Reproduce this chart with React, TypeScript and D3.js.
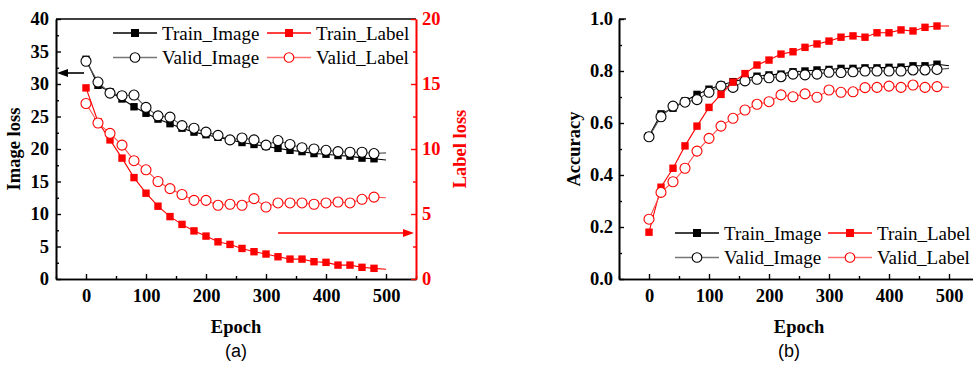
import * as d3 from 'd3'
import { useEffect, useRef } from 'react'

const epochs = [0, 20, 40, 60, 80, 100, 120, 140, 160, 180, 200, 220, 240, 260, 280, 300, 320, 340, 360, 380, 400, 420, 440, 460, 480, 500]

// (a) losses
const trainImage = [33.8, 29.8, 28.8, 27.7, 26.5, 25.5, 24.6, 23.9, 23.2, 22.6, 22.2, 21.8, 21.4, 21.0, 20.7, 20.4, 20.1, 19.8, 19.6, 19.3, 19.2, 19.0, 18.9, 18.6, 18.5, 18.3]
const validImage = [33.5, 30.3, 28.6, 28.2, 28.3, 26.4, 25.1, 24.9, 23.6, 23.2, 22.6, 22.1, 21.4, 21.7, 21.4, 20.6, 21.3, 20.7, 20.2, 20.0, 19.8, 19.6, 19.5, 19.5, 19.3, 19.4]
const trainLabel = [14.7, 12.1, 10.7, 9.3, 7.8, 6.6, 5.6, 4.8, 4.2, 3.7, 3.3, 2.86, 2.66, 2.35, 2.1, 1.92, 1.71, 1.53, 1.53, 1.33, 1.28, 1.07, 1.07, 0.9, 0.82, 0.75]
const validLabel = [13.5, 12.0, 11.2, 10.3, 9.1, 8.4, 7.5, 6.95, 6.5, 6.05, 6.05, 5.67, 5.75, 5.67, 6.18, 5.54, 5.85, 5.85, 5.85, 5.75, 5.85, 5.92, 5.85, 6.13, 6.3, 6.25]

// (b) accuracy
const trainImageAcc = [0.55, 0.635, 0.657, 0.685, 0.71, 0.73, 0.746, 0.759, 0.77, 0.78, 0.785, 0.788, 0.797, 0.8, 0.804, 0.806, 0.81, 0.81, 0.812, 0.812, 0.814, 0.815, 0.82, 0.82, 0.826, 0.82]
const validImageAcc = [0.547, 0.624, 0.665, 0.68, 0.69, 0.718, 0.742, 0.737, 0.762, 0.768, 0.774, 0.778, 0.788, 0.785, 0.788, 0.795, 0.794, 0.797, 0.8, 0.8, 0.8, 0.8, 0.804, 0.804, 0.806, 0.81]
const trainLabelAcc = [0.18, 0.353, 0.426, 0.512, 0.588, 0.66, 0.71, 0.757, 0.79, 0.823, 0.842, 0.865, 0.874, 0.891, 0.904, 0.915, 0.93, 0.935, 0.93, 0.947, 0.947, 0.958, 0.954, 0.968, 0.973, 0.973]
const validLabelAcc = [0.23, 0.333, 0.374, 0.426, 0.492, 0.541, 0.588, 0.618, 0.65, 0.672, 0.682, 0.708, 0.701, 0.712, 0.699, 0.727, 0.718, 0.72, 0.736, 0.737, 0.742, 0.737, 0.746, 0.737, 0.74, 0.737]

const xTicks = [0, 100, 200, 300, 400, 500]
const xMinor = [-50, 50, 150, 250, 350, 450, 550]
const lossTicks = [0, 5, 10, 15, 20, 25, 30, 35, 40]
const lossMinor = [2.5, 7.5, 12.5, 17.5, 22.5, 27.5, 32.5, 37.5]
const labelLossTicks = [0, 5, 10, 15, 20]
const labelLossMinor = [2.5, 7.5, 12.5, 17.5]
const accTicks = [0, 0.2, 0.4, 0.6, 0.8, 1.0]
const accMinor = [0.1, 0.3, 0.5, 0.7, 0.9]

const legendNames = ['Train_Image', 'Train_Label', 'Valid_Image', 'Valid_Label']

const SERIF = '"Liberation Serif", "Times New Roman", serif'
const SANS = '"Liberation Sans", Arial, sans-serif'
const RED = '#ff0000'

type Sel = d3.Selection<SVGGElement, unknown, null, undefined>

function styleAxis(g: Sel, color: string) {
  g.select('.domain').attr('stroke', color).attr('stroke-width', 1.6)
  g.selectAll('.tick line').attr('stroke', color).attr('stroke-width', 1.4)
  g.selectAll('.tick text')
    .attr('fill', color).attr('font-family', SERIF)
    .attr('font-weight', 'bold').attr('font-size', 18.5)
}

function drawSeries(
  g: Sel, x: d3.ScaleLinear<number, number>, y: d3.ScaleLinear<number, number>,
  vals: number[], kind: 'square' | 'circle', color: string, lineColor: string,
) {
  const line = d3.line<number>().x((_, i) => x(epochs[i])).y(d => y(d))
  g.append('path').datum(vals).attr('d', line)
    .attr('fill', 'none').attr('stroke', lineColor).attr('stroke-width', 1.1)
  const pts = vals.slice(0, vals.length - 1)
  if (kind === 'square') {
    g.selectAll(null).data(pts).enter().append('rect')
      .attr('x', (_, i) => x(epochs[i]) - 3.7).attr('y', d => y(d) - 3.7)
      .attr('width', 7.4).attr('height', 7.4).attr('fill', color)
  } else {
    g.selectAll(null).data(pts).enter().append('circle')
      .attr('cx', (_, i) => x(epochs[i])).attr('cy', d => y(d)).attr('r', 5)
      .attr('fill', '#fff').attr('stroke', color).attr('stroke-width', 1.1)
  }
}

function drawLegend(g: Sel, x0: number, x1: number, y0: number) {
  const items = [
    { name: legendNames[0], kind: 'square', color: '#000', line: '#000', col: 0, row: 0 },
    { name: legendNames[1], kind: 'square', color: RED, line: RED, col: 1, row: 0 },
    { name: legendNames[2], kind: 'circle', color: '#000', line: '#777', col: 0, row: 1 },
    { name: legendNames[3], kind: 'circle', color: RED, line: '#ff7070', col: 1, row: 1 },
  ]
  for (const it of items) {
    const lx = it.col === 0 ? x0 : x1
    const ly = y0 + it.row * 24.5
    g.append('line').attr('x1', lx).attr('x2', lx + 44).attr('y1', ly).attr('y2', ly)
      .attr('stroke', it.line).attr('stroke-width', 1.3)
    if (it.kind === 'square') {
      g.append('rect').attr('x', lx + 22 - 4).attr('y', ly - 4).attr('width', 8).attr('height', 8)
        .attr('fill', it.color)
    } else {
      g.append('circle').attr('cx', lx + 22).attr('cy', ly).attr('r', 4.8)
        .attr('fill', '#fff').attr('stroke', it.color).attr('stroke-width', 1.1)
    }
    g.append('text').attr('x', lx + 49).attr('y', ly).attr('dy', '0.35em')
      .attr('font-family', SERIF).attr('font-size', 19).attr('fill', '#000')
      .text(it.name)
  }
}

function arrowHead(g: Sel, tipX: number, tipY: number, dir: number, color: string) {
  g.append('path')
    .attr('d', `M${tipX},${tipY} L${tipX - dir * 11},${tipY - 4} L${tipX - dir * 11},${tipY + 4} Z`)
    .attr('fill', color)
}

function title(g: Sel, x: number, y: number, text: string, color = '#000', rotate = false) {
  g.append('text')
    .attr('transform', rotate ? `translate(${x},${y}) rotate(-90)` : `translate(${x},${y})`)
    .attr('text-anchor', 'middle').attr('font-family', SERIF).attr('font-weight', 'bold')
    .attr('font-size', 18.5).attr('fill', color).text(text)
}

export default function App() {
  const ref = useRef<SVGSVGElement | null>(null)

  useEffect(() => {
    if (!ref.current) return
    const svg = d3.select(ref.current)
    svg.selectAll('*').remove()

    const top = 19
    const bottom = 279

    // ---------- (a) ----------
    const ga = svg.append('g') as unknown as Sel
    const xa = d3.scaleLinear().domain([-50, 550]).range([56, 416])
    const yl = d3.scaleLinear().domain([0, 40]).range([bottom, top])
    const yr = d3.scaleLinear().domain([0, 20]).range([bottom, top])

    ga.append('g').attr('transform', `translate(0,${bottom})`)
      .call(d3.axisBottom(xa).tickValues(xMinor).tickSize(-3).tickSizeOuter(0).tickFormat(() => ''))
      .call(g => styleAxis(g as unknown as Sel, '#000'))
    ga.append('g').attr('transform', `translate(0,${bottom})`)
      .call(d3.axisBottom(xa).tickValues(xTicks).tickSize(-5).tickSizeOuter(0).tickPadding(10))
      .call(g => styleAxis(g as unknown as Sel, '#000'))
    ga.append('line').attr('x1', 56).attr('x2', 416).attr('y1', top).attr('y2', top)
      .attr('stroke', '#000').attr('stroke-width', 1.6)
    ga.append('g').attr('transform', 'translate(56,0)')
      .call(d3.axisLeft(yl).tickValues(lossMinor).tickSize(-3).tickSizeOuter(0).tickFormat(() => ''))
      .call(g => styleAxis(g as unknown as Sel, '#000'))
    ga.append('g').attr('transform', 'translate(56,0)')
      .call(d3.axisLeft(yl).tickValues(lossTicks).tickSize(-5).tickSizeOuter(0).tickPadding(7))
      .call(g => styleAxis(g as unknown as Sel, '#000'))

    const plotA = ga.append('g') as unknown as Sel
    drawSeries(plotA, xa, yl, trainImage, 'square', '#000', '#000')
    drawSeries(plotA, xa, yl, validImage, 'circle', '#000', '#555')
    drawSeries(plotA, xa, yr, trainLabel, 'square', RED, RED)
    drawSeries(plotA, xa, yr, validLabel, 'circle', RED, '#ff5050')

    ga.append('g').attr('transform', 'translate(416,0)')
      .call(d3.axisRight(yr).tickValues(labelLossMinor).tickSize(-3).tickSizeOuter(0).tickFormat(() => ''))
      .call(g => styleAxis(g as unknown as Sel, RED))
    ga.append('g').attr('transform', 'translate(416,0)')
      .call(d3.axisRight(yr).tickValues(labelLossTicks).tickSize(-5).tickSizeOuter(0).tickPadding(6))
      .call(g => styleAxis(g as unknown as Sel, RED))

    drawLegend(ga, 113, 267, 33)

    // arrows
    ga.append('line').attr('x1', 84).attr('x2', 66).attr('y1', 73).attr('y2', 73)
      .attr('stroke', '#000').attr('stroke-width', 1.6)
    arrowHead(ga, 57, 73, -1, '#000')
    ga.append('line').attr('x1', 278).attr('x2', 404).attr('y1', 233).attr('y2', 233)
      .attr('stroke', RED).attr('stroke-width', 1.6)
    arrowHead(ga, 414, 233, 1, RED)

    title(ga, 20, (top + bottom) / 2, 'Image loss', '#000', true)
    title(ga, 466, (top + bottom) / 2, 'Label loss', RED, true)
    title(ga, 236, 333, 'Epoch')
    ga.append('text').attr('x', 236).attr('y', 357).attr('text-anchor', 'middle')
      .attr('font-family', SANS).attr('font-size', 18).text('(a)')

    // ---------- (b) ----------
    const gb = svg.append('g') as unknown as Sel
    const xb = d3.scaleLinear().domain([-50, 550]).range([619, 979])
    const yb = d3.scaleLinear().domain([0, 1]).range([bottom, top])

    gb.append('g').attr('transform', `translate(0,${bottom})`)
      .call(d3.axisBottom(xb).tickValues(xMinor).tickSize(-3).tickSizeOuter(0).tickFormat(() => ''))
      .call(g => styleAxis(g as unknown as Sel, '#000'))
    gb.append('g').attr('transform', `translate(0,${bottom})`)
      .call(d3.axisBottom(xb).tickValues(xTicks).tickSize(-5).tickSizeOuter(0).tickPadding(10))
      .call(g => styleAxis(g as unknown as Sel, '#000'))
    gb.append('g').attr('transform', 'translate(619,0)')
      .call(d3.axisLeft(yb).tickValues(accMinor).tickSize(-3).tickSizeOuter(0).tickFormat(() => ''))
      .call(g => styleAxis(g as unknown as Sel, '#000'))
    gb.append('g').attr('transform', 'translate(619,0)')
      .call(d3.axisLeft(yb).tickValues(accTicks).tickSize(-5).tickSizeOuter(0).tickPadding(6).tickFormat(d3.format('.1f')))
      .call(g => styleAxis(g as unknown as Sel, '#000'))
    // top end cap of the left axis
    gb.append('line').attr('x1', 619).attr('x2', 626).attr('y1', top).attr('y2', top)
      .attr('stroke', '#000').attr('stroke-width', 1.4)

    const plotB = gb.append('g') as unknown as Sel
    drawSeries(plotB, xb, yb, trainImageAcc, 'square', '#000', '#000')
    drawSeries(plotB, xb, yb, validImageAcc, 'circle', '#000', '#555')
    drawSeries(plotB, xb, yb, trainLabelAcc, 'square', RED, RED)
    drawSeries(plotB, xb, yb, validLabelAcc, 'circle', RED, '#ff5050')

    drawLegend(gb, 675, 828, 233)

    title(gb, 580, (top + bottom) / 2, 'Accuracy', '#000', true)
    title(gb, 799, 333, 'Epoch')
    gb.append('text').attr('x', 789).attr('y', 357).attr('text-anchor', 'middle')
      .attr('font-family', SANS).attr('font-size', 18).text('(b)')
  }, [])

  return (
    <svg ref={ref} width={973} height={369}
      style={{ position: 'absolute', left: 0, top: 0, display: 'block', background: '#fff' }} />
  )
}
